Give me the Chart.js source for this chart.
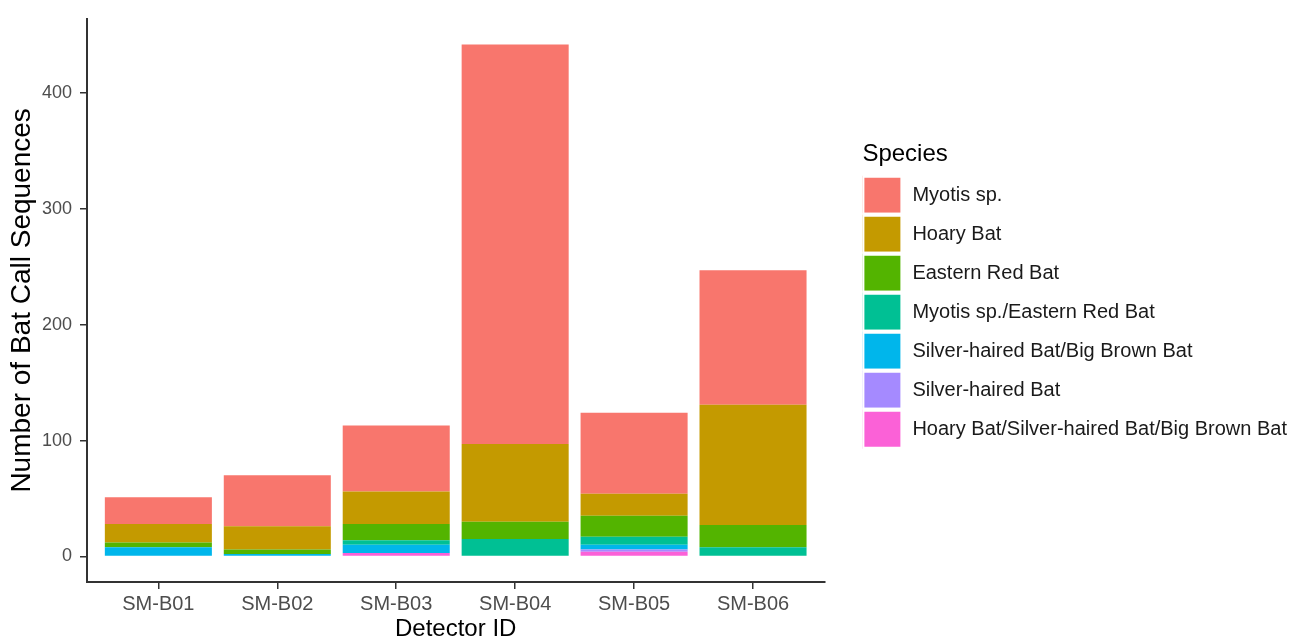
<!DOCTYPE html>
<html>
<head>
<meta charset="utf-8">
<script src="https://cdn.jsdelivr.net/npm/chart.js@4.4.1/dist/chart.umd.min.js"></script>
<style>
  html, body { margin: 0; padding: 0; background: #fff; }
  #wrap { width: 1304px; height: 642px; position: relative; }
</style>
</head>
<body>
<div id="wrap"><canvas id="c" width="1304" height="642"></canvas></div>
<script>
// ---- Data ----
const categories = ["SM-B01", "SM-B02", "SM-B03", "SM-B04", "SM-B05", "SM-B06"];
const species = ["Myotis sp.", "Hoary Bat", "Eastern Red Bat", "Myotis sp./Eastern Red Bat",
                 "Silver-haired Bat/Big Brown Bat", "Silver-haired Bat", "Hoary Bat/Silver-haired Bat/Big Brown Bat"];
const myotis        = [23, 44, 57, 345, 70, 116];
const hoaryBat      = [16, 20, 28, 67, 19, 104];
const easternRedBat = [4, 4, 14, 15, 18, 19];
const myotisERB     = [0, 0, 4, 15, 7, 8];
const silverBigBrown= [8, 2, 7, 0, 4, 0];
const silverHaired  = [0, 0, 0, 0, 2, 0];
const hoarySilverBB = [0, 0, 3, 0, 4, 0];
const yTickValues = [0, 100, 200, 300, 400];

const seriesValues = [myotis, hoaryBat, easternRedBat, myotisERB, silverBigBrown, silverHaired, hoarySilverBB];
const colors = ["#F8766D", "#C49A00", "#53B400", "#00C094", "#00B6EB", "#A58AFF", "#FB61D7"];

// bottom-first stacking (ggplot puts first level on top)
const datasets = [];
for (let s = species.length - 1; s >= 0; s--) {
  datasets.push({
    label: species[s],
    data: seriesValues[s].map((v, i) => ({ x: i + 1, y: v })),
    backgroundColor: colors[s],
    borderWidth: 0,
    grouped: false,
    barPercentage: 0.9,
    categoryPercentage: 1.0
  });
}

const axisColor = "#333333";
const tickColor = "#4D4D4D";
const fam = "'Liberation Sans', Arial, Helvetica, sans-serif";

new Chart(document.getElementById("c"), {
  type: "bar",
  data: { datasets },
  options: {
    responsive: false,
    animation: false,
    devicePixelRatio: 1,
    layout: { padding: { top: 10, right: 7, bottom: 0, left: 0 } },
    plugins: {
      tooltip: { enabled: false },
      legend: {
        position: "right",
        align: "start",
        reverse: true,
        maxWidth: 600,
        title: {
          display: true,
          text: "Species",
          color: "#000",
          position: "start",
          font: { family: fam, size: 24 },
          padding: { top: 132, bottom: 5 }
        },
        labels: {
          boxWidth: 40,
          boxHeight: 39,
          padding: 0,
          color: "#1a1a1a",
          font: { family: fam, size: 20 },
          generateLabels: chart => {
            const items = Chart.defaults.plugins.legend.labels.generateLabels(chart);
            items.forEach(it => { it.lineWidth = 4; it.strokeStyle = "#ffffff"; });
            return items;
          }
        }
      }
    },
    scales: {
      x: {
        type: "linear",
        min: 0.4,
        max: 6.6,
        offset: false,
        afterBuildTicks: s => { s.ticks = categories.map((c, i) => ({ value: i + 1 })); },
        afterFit: s => { s.height = 60; },
        ticks: {
          callback: v => categories[Math.round(v) - 1] || "",
          color: tickColor,
          font: { family: fam, size: 20 },
          padding: 3,
          autoSkip: false,
          maxRotation: 0
        },
        grid: { display: true, offset: false, drawOnChartArea: false, drawTicks: true, tickLength: 7, color: axisColor, lineWidth: 1.5 },
        border: { display: true, color: axisColor, width: 2 },
        title: {
          display: true,
          text: "Detector ID",
          color: "#000",
          font: { family: fam, size: 24, lineHeight: 1 },
          padding: { top: 0, bottom: 1 }
        }
      },
      y: {
        type: "linear",
        stacked: true,
        min: -22.1,
        max: 464.1,
        afterBuildTicks: s => { s.ticks = yTickValues.map(v => ({ value: v })); },
        afterFit: s => { s.width = 87; },
        ticks: {
          color: tickColor,
          font: { family: fam, size: 18 },
          padding: 8
        },
        grid: { display: true, drawOnChartArea: false, drawTicks: true, tickLength: 7, color: axisColor, lineWidth: 1.5 },
        border: { display: true, color: axisColor, width: 2 },
        title: {
          display: true,
          text: "Number of Bat Call Sequences",
          color: "#000",
          font: { family: fam, size: 28, lineHeight: 1 },
          padding: { top: 8, bottom: 0 }
        }
      },
      yPad: {
        type: "linear",
        position: "right",
        display: true,
        ticks: { display: false },
        grid: { display: false },
        border: { display: false },
        afterFit: s => { s.width = 38; }
      }
    }
  }
});
</script>
</body>
</html>
